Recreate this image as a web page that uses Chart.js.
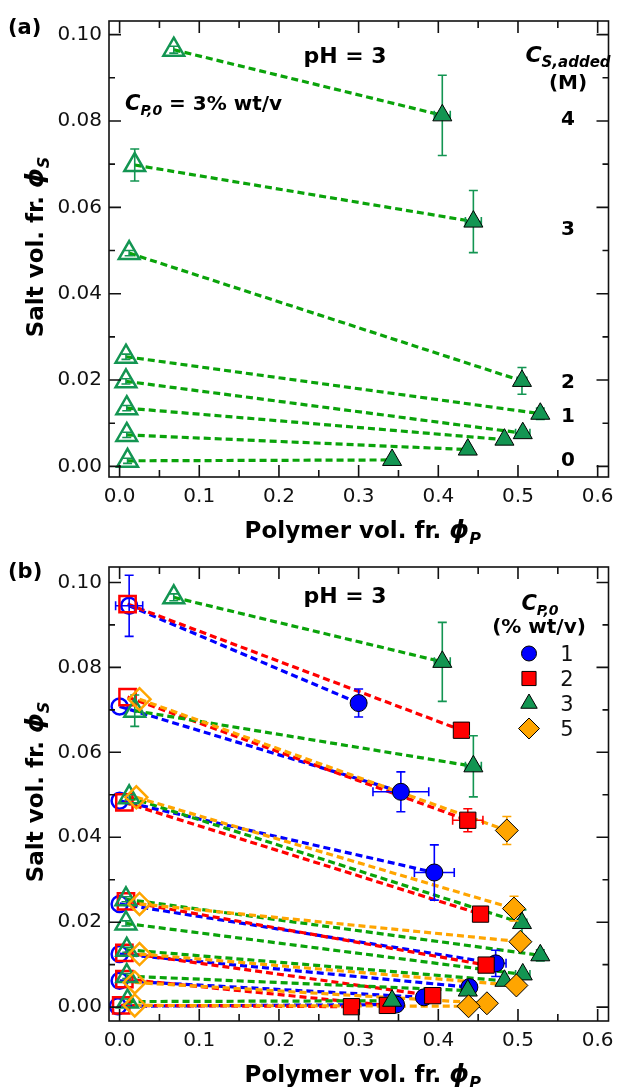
<!DOCTYPE html>
<html lang="en">
<head>
  <meta charset="UTF-8">
  <title>salt vs polymer volume fraction, pH 3</title>
  <script src="https://cdn.jsdelivr.net/npm/chart.js@4.4.1/dist/chart.umd.min.js"></script>
  <style>
    body { margin: 0; background: #fff; }
    #wrap { position: relative; width: 623px; height: 1087px; }
    canvas { position: absolute; left: 0; }
    #chartA { top: 0; }
    #chartB { top: 548px; }
  </style>
</head>
<body>
  <div id="wrap">
    <canvas id="chartA" width="623" height="548"></canvas>
    <canvas id="chartB" width="623" height="539"></canvas>
  </div>

  <script>
    // tick values
    const xTicks = [0, 0.1, 0.2, 0.3, 0.4, 0.5, 0.6];
    const xMinor = [0.05, 0.15, 0.25, 0.35, 0.45, 0.55];
    const yTicks = [0, 0.02, 0.04, 0.06, 0.08, 0.10];
    const yMinor = [0.01, 0.03, 0.05, 0.07, 0.09];

    // C_P,0 = 3 % wt/v (green) - supernatant (open) and coacervate (filled)
    const gOpenX = [0.068, 0.019, 0.012, 0.008, 0.008, 0.009, 0.009, 0.010];
    const gOpenY = [0.0965, 0.0698, 0.0494, 0.0254, 0.0197, 0.0135, 0.0073, 0.0013];
    const gOpenYErr = [0.0008, 0.0037, 0.0006, 0.0006, 0.0006, 0.0006, 0.0006, 0.0006];
    const gFilledX = [0.405, 0.444, 0.505, 0.528, 0.506, 0.483, 0.437, 0.342];
    const gFilledY = [0.0813, 0.0567, 0.0198, 0.0122, 0.0077, 0.0062, 0.0039, 0.0015];
    const gFilledXErr = [0.010, 0.010, 0.006, 0.004, 0.009, 0, 0, 0];
    const gFilledYErr = [0.0093, 0.0072, 0.0031, 0.0013, 0, 0, 0, 0];

    // C_P,0 = 1 % wt/v (blue)
    const bOpenX = [0.012, 0.000, 0.000, 0.000, 0.000, 0.000, -0.002];
    const bOpenY = [0.0945, 0.0708, 0.0486, 0.0243, 0.0125, 0.0062, 0.0002];
    const bOpenXErr = [0.017, 0, 0, 0, 0, 0, 0];
    const bOpenYErr = [0.0072, 0, 0, 0, 0, 0, 0];
    const bFilledX = [0.300, 0.353, 0.395, 0.472, 0.439, 0.382, 0.347];
    const bFilledY = [0.0716, 0.0507, 0.0317, 0.0103, 0.0047, 0.0023, 0.0006];
    const bFilledXErr = [0, 0.035, 0.025, 0.013, 0.004, 0, 0];
    const bFilledYErr = [0.0033, 0.0047, 0.0065, 0.0031, 0.0017, 0, 0];

    // C_P,0 = 2 % wt/v (red)
    const rOpenX = [0.010, 0.010, 0.006, 0.008, 0.006, 0.006, 0.002];
    const rOpenY = [0.0949, 0.0730, 0.0482, 0.0249, 0.0128, 0.0066, 0.0004];
    const rFilledX = [0.429, 0.437, 0.453, 0.460, 0.393, 0.336, 0.291];
    const rFilledY = [0.0652, 0.0440, 0.0219, 0.0099, 0.0027, 0.0004, 0.0001];
    const rFilledXErr = [0, 0.019, 0, 0, 0, 0, 0];
    const rFilledYErr = [0, 0.0027, 0, 0, 0, 0, 0];

    // C_P,0 = 5 % wt/v (orange)
    const oOpenX = [0.025, 0.021, 0.025, 0.025, 0.019, 0.019];
    const oOpenY = [0.0725, 0.0494, 0.0243, 0.0125, 0.0058, 0.0004];
    const oFilledX = [0.486, 0.495, 0.503, 0.498, 0.461, 0.438];
    const oFilledY = [0.0416, 0.0232, 0.0154, 0.0051, 0.0009, 0.0002];
    const oFilledYErr = [0.0033, 0.0029, 0, 0, 0, 0];

    const legendLabels = ['1', '2', '3', '5'];
    const saltLabels = ['4', '3', '2', '1', '0'];

    const GREEN = '#139552';
    const GREEN_LINE = '#0aa30a';
    const BLUE = '#0000ff';
    const RED = '#ff0000';
    const ORANGE = '#ffa500';

    const green = { openX: gOpenX, openY: gOpenY, openYErr: gOpenYErr, fX: gFilledX, fY: gFilledY,
      fXErr: gFilledXErr, fYErr: gFilledYErr, color: GREEN, line: GREEN_LINE, style: 'triangle', rOpen: 12, rFill: 11, order: 2 };
    const blue = { openX: bOpenX, openY: bOpenY, openXErr: bOpenXErr, openYErr: bOpenYErr, fX: bFilledX, fY: bFilledY,
      fXErr: bFilledXErr, fYErr: bFilledYErr, color: BLUE, line: BLUE, style: 'circle', rOpen: 8, rFill: 8.5, order: 4 };
    const red = { openX: rOpenX, openY: rOpenY, fX: rFilledX, fY: rFilledY,
      fXErr: rFilledXErr, fYErr: rFilledYErr, color: RED, line: RED, style: 'rect', rOpen: 11.5, rFill: 11.5, order: 3 };
    const orange = { openX: oOpenX, openY: oOpenY, fX: oFilledX, fY: oFilledY,
      fYErr: oFilledYErr, color: ORANGE, line: ORANGE, style: 'rectRot', rOpen: 11, rFill: 11.5, order: 1 };

    const buildDatasets = (list) => {
      const ds = [];
      list.forEach((s) => {
        s.openX.forEach((x, i) => {
          ds.push({
            data: [{ x: x, y: s.openY[i] }, { x: s.fX[i], y: s.fY[i] }],
            showLine: true, borderColor: s.line, borderWidth: 3.2, borderDash: [7, 4],
            pointRadius: 0, fill: false, order: 10 + s.order
          });
        });
      });
      list.forEach((s) => {
        ds.push({
          data: s.openX.map((x, i) => ({ x: x, y: s.openY[i] })),
          pointStyle: s.style, pointRadius: s.rOpen, backgroundColor: 'rgba(0,0,0,0)',
          borderColor: s.color, borderWidth: 2.5, xErr: s.openXErr, yErr: s.openYErr, errColor: s.color,
          order: s.order + 0.5
        });
        ds.push({
          data: s.fX.map((x, i) => ({ x: x, y: s.fY[i] })),
          pointStyle: s.style, pointRadius: s.rFill, backgroundColor: s.color,
          borderColor: '#000', borderWidth: 1, xErr: s.fXErr, yErr: s.fYErr, errColor: s.color,
          order: s.order
        });
      });
      return ds;
    };

    // error bars, drawn just under their own markers
    const errorBars = {
      id: 'errorBars',
      beforeDatasetDraw(chart, args) {
        const ds = chart.data.datasets[args.index];
        if (!ds.xErr && !ds.yErr) return;
        const xs = chart.scales.x, ys = chart.scales.y, ctx = chart.ctx;
        ctx.save();
        ctx.strokeStyle = ds.errColor;
        ctx.lineWidth = 1.6;
        ctx.beginPath();
        ds.data.forEach((p, i) => {
          const px = xs.getPixelForValue(p.x), py = ys.getPixelForValue(p.y);
          const ex = ds.xErr ? ds.xErr[i] : 0, ey = ds.yErr ? ds.yErr[i] : 0;
          if (ey) {
            const y1 = ys.getPixelForValue(p.y + ey), y2 = ys.getPixelForValue(p.y - ey);
            ctx.moveTo(px, y1); ctx.lineTo(px, y2);
            ctx.moveTo(px - 4.5, y1); ctx.lineTo(px + 4.5, y1);
            ctx.moveTo(px - 4.5, y2); ctx.lineTo(px + 4.5, y2);
          }
          if (ex) {
            const x1 = xs.getPixelForValue(p.x - ex), x2 = xs.getPixelForValue(p.x + ex);
            ctx.moveTo(x1, py); ctx.lineTo(x2, py);
            ctx.moveTo(x1, py - 4.5); ctx.lineTo(x1, py + 4.5);
            ctx.moveTo(x2, py - 4.5); ctx.lineTo(x2, py + 4.5);
          }
        });
        ctx.stroke();
        ctx.restore();
      }
    };

    // box with inward ticks on all four sides
    const frame = {
      id: 'frame',
      afterDatasetsDraw(chart) {
        const { ctx, chartArea: a, scales: { x, y } } = chart;
        ctx.save();
        ctx.strokeStyle = '#111';
        ctx.lineWidth = 1.6;
        ctx.strokeRect(a.left, a.top, a.right - a.left, a.bottom - a.top);
        ctx.beginPath();
        const xt = (vals, len) => vals.forEach((v) => {
          const p = x.getPixelForValue(v);
          ctx.moveTo(p, a.bottom); ctx.lineTo(p, a.bottom - len);
          ctx.moveTo(p, a.top); ctx.lineTo(p, a.top + len);
        });
        const yt = (vals, len) => vals.forEach((v) => {
          const p = y.getPixelForValue(v);
          ctx.moveTo(a.left, p); ctx.lineTo(a.left + len, p);
          ctx.moveTo(a.right, p); ctx.lineTo(a.right - len, p);
        });
        xt(xTicks, 12); xt(xMinor, 7);
        yt(yTicks, 12); yt(yMinor, 6);
        ctx.stroke();
        ctx.restore();
      }
    };

    const FONT = '"DejaVu Sans", sans-serif';
    const bold = (s) => `bold ${s}px ${FONT}`;
    const boldIt = (s) => `italic bold ${s}px ${FONT}`;

    // draws text made of several runs (font changes, subscripts)
    const rich = (ctx, parts, x, y, align) => {
      let w = 0;
      parts.forEach((p) => { ctx.font = p[1]; w += ctx.measureText(p[0]).width; });
      let cx = align === 'center' ? x - w / 2 : (align === 'right' ? x - w : x);
      ctx.textAlign = 'left';
      ctx.textBaseline = 'alphabetic';
      parts.forEach((p) => {
        ctx.font = p[1];
        ctx.fillText(p[0], cx, y + (p[2] || 0));
        cx += ctx.measureText(p[0]).width;
      });
    };

    const axisTitles = (chart) => {
      const { ctx, chartArea: a } = chart;
      ctx.save();
      ctx.fillStyle = '#000';
      rich(ctx, [['Polymer vol. fr. ', bold(23)], ['\u03D5', boldIt(25)], ['P', boldIt(16), 6]],
        (a.left + a.right) / 2 + 4, a.bottom + 61, 'center');
      ctx.translate(43, (a.top + a.bottom) / 2 - 2);
      ctx.rotate(-Math.PI / 2);
      rich(ctx, [['Salt vol. fr. ', bold(23)], ['\u03D5', boldIt(25)], ['S', boldIt(16), 6]], 0, 0, 'center');
      ctx.restore();
    };

    const annotA = {
      id: 'annotA',
      afterDraw(chart) {
        const ctx = chart.ctx;
        axisTitles(chart);
        ctx.save();
        ctx.fillStyle = '#000';
        rich(ctx, [['(a)', bold(21)]], 8, 34, 'left');
        rich(ctx, [['pH = 3', bold(22)]], 345, 63, 'center');
        rich(ctx, [['C', boldIt(21)], ['P,0', boldIt(14), 5], [' = 3% wt/v', bold(20)]], 125, 110, 'left');
        rich(ctx, [['C', boldIt(22)], ['S,added', boldIt(15), 5]], 568, 62, 'center');
        rich(ctx, [['(M)', bold(20)]], 568, 89, 'center');
        const ys = [125, 235, 388, 422, 466];
        saltLabels.forEach((t, i) => rich(ctx, [[t, bold(20)]], 568, ys[i], 'center'));
        ctx.restore();
      }
    };

    const legendMarks = [blue, red, green, orange];
    const annotB = {
      id: 'annotB',
      afterDraw(chart) {
        const ctx = chart.ctx;
        axisTitles(chart);
        ctx.save();
        ctx.fillStyle = '#000';
        rich(ctx, [['(b)', bold(21)]], 8, 30, 'left');
        rich(ctx, [['pH = 3', bold(22)]], 345, 55, 'center');
        rich(ctx, [['C', boldIt(21)], ['P,0', boldIt(14), 5]], 540, 62, 'center');
        rich(ctx, [['(% wt/v)', bold(20)]], 539, 85, 'center');
        const radii = [7.5, 10, 9.5, 10.5];
        legendMarks.forEach((s, i) => {
          const cy = 105.5 + i * 25;
          ctx.fillStyle = s.color;
          ctx.strokeStyle = '#000';
          ctx.lineWidth = 1;
          const opts = { pointStyle: s.style, radius: radii[i], rotation: 0, borderWidth: 1 };
          if (Chart.helpers && Chart.helpers.drawPoint) {
            Chart.helpers.drawPoint(ctx, opts, 529, cy);
          } else {
            ctx.beginPath(); ctx.arc(529, cy, radii[i], 0, Math.PI * 2); ctx.fill(); ctx.stroke();
          }
          ctx.fillStyle = '#111';
          ctx.font = `21px ${FONT}`;
          ctx.textAlign = 'center';
          ctx.textBaseline = 'alphabetic';
          ctx.fillText(legendLabels[i], 567, cy + 7.5);
        });
        ctx.restore();
      }
    };

    const makeChart = (id, datasets, yMin, yMax, padTop, xHeight, annot) => new Chart(document.getElementById(id), {
      type: 'scatter',
      data: { datasets: datasets },
      options: {
        responsive: false,
        animation: false,
        events: [],
        layout: { padding: { top: padTop, right: 8, left: 0, bottom: 0 } },
        plugins: { legend: { display: false }, tooltip: { enabled: false } },
        scales: {
          x: {
            type: 'linear', min: -0.0133, max: 0.6136,
            grid: { display: false, drawTicks: false },
            border: { display: false },
            afterBuildTicks: (s) => { s.ticks = xTicks.map((v) => ({ value: v })); },
            afterFit: (s) => { s.height = xHeight; },
            ticks: {
              padding: 8, color: '#111', maxRotation: 0, autoSkip: false,
              font: { family: 'DejaVu Sans', size: 20 },
              callback: (v) => v.toFixed(1)
            }
          },
          y: {
            type: 'linear', min: yMin, max: yMax,
            grid: { display: false, drawTicks: false },
            border: { display: false },
            afterBuildTicks: (s) => { s.ticks = yTicks.map((v) => ({ value: v })); },
            afterFit: (s) => { s.width = 109; },
            ticks: {
              padding: 7, color: '#111', autoSkip: false,
              font: { family: 'DejaVu Sans', size: 20 },
              callback: (v) => v.toFixed(2)
            }
          }
        }
      },
      plugins: [errorBars, frame, annot]
    });

    makeChart('chartA', buildDatasets([green]), -0.00245, 0.10315, 21, 71, annotA);
    makeChart('chartB', buildDatasets([blue, red, green, orange]), -0.00327, 0.10364, 15, 66, annotB);
  </script>
</body>
</html>
